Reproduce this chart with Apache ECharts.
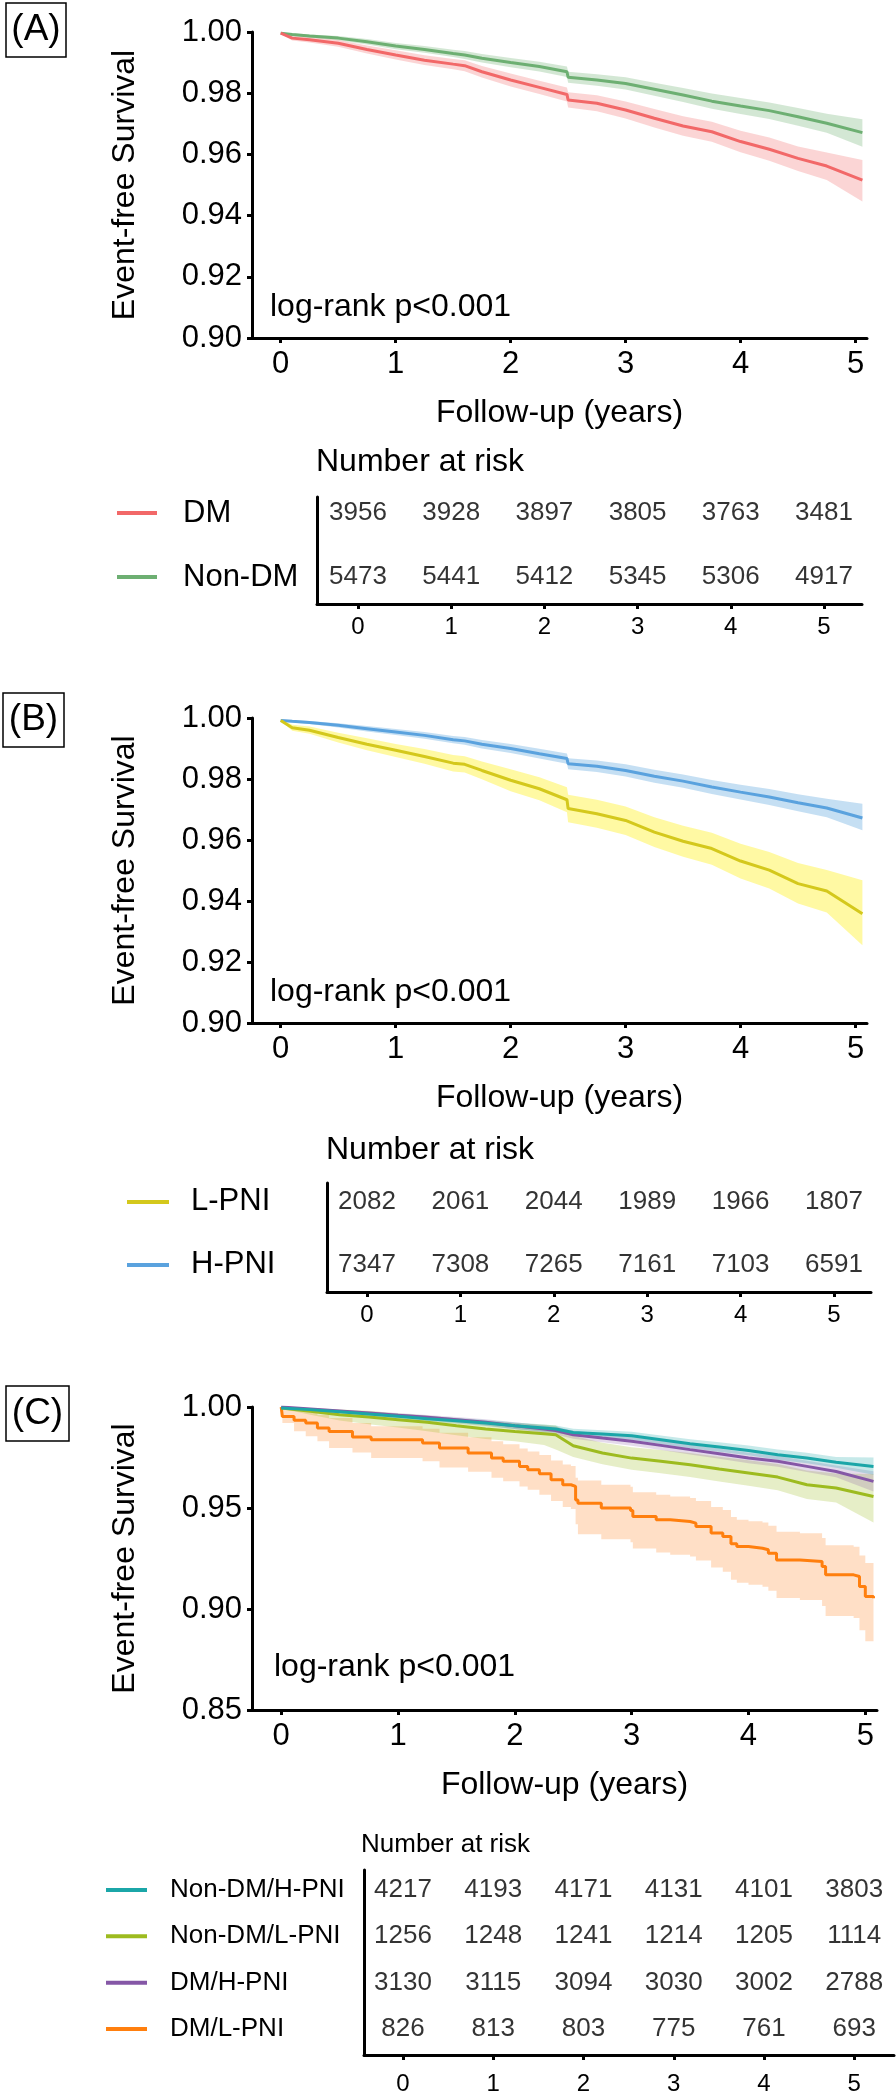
<!DOCTYPE html>
<html><head><meta charset="utf-8">
<script src="https://cdn.jsdelivr.net/npm/echarts@6/dist/echarts.min.js"></script>
<style>html,body{margin:0;padding:0;background:#fff}#c{width:896px;height:2098px}</style>
</head><body><div id="c"></div>
<script>
// ---------------- DATA ----------------
const xTicks = [0, 1, 2, 3, 4, 5];
const timesAB = [0, 0.1, 0.25, 0.5, 0.75, 1, 1.25, 1.5, 1.6, 1.75, 2, 2.25, 2.49, 2.5, 2.75, 3, 3.25, 3.5, 3.75, 4, 4.25, 4.5, 4.75, 5.06];

// Panel A
const dmSurv  = [0.9996, 0.998, 0.9975, 0.9963, 0.9943, 0.9925, 0.9908, 0.9895, 0.989, 0.987, 0.9843, 0.9819, 0.9796, 0.9778, 0.9767, 0.9745, 0.9718, 0.9693, 0.9674, 0.9642, 0.9617, 0.9587, 0.9562, 0.9516];
const dmUpper = [0.9998, 0.9988, 0.9984, 0.9974, 0.9956, 0.994, 0.9924, 0.9912, 0.9908, 0.9889, 0.9864, 0.9841, 0.9819, 0.9803, 0.9793, 0.9773, 0.9748, 0.9725, 0.9707, 0.9677, 0.9655, 0.9626, 0.9606, 0.9582];
const dmLower = [0.9994, 0.9972, 0.9966, 0.9952, 0.993, 0.991, 0.9892, 0.9878, 0.9872, 0.9851, 0.9822, 0.9797, 0.9773, 0.9753, 0.9741, 0.9717, 0.9688, 0.9661, 0.9641, 0.9607, 0.9579, 0.9546, 0.9516, 0.9446];
const nonDmSurv  = [0.9996, 0.9992, 0.9987, 0.998, 0.9968, 0.9954, 0.9943, 0.993, 0.9925, 0.9914, 0.990, 0.9887, 0.987, 0.9852, 0.9843, 0.9832, 0.9813, 0.9794, 0.9774, 0.9758, 0.9743, 0.9723, 0.9702, 0.9671];
const nonDmUpper = [0.9998, 0.9996, 0.9992, 0.9987, 0.9977, 0.9964, 0.9954, 0.9942, 0.9938, 0.9928, 0.9915, 0.9903, 0.9887, 0.987, 0.9862, 0.9852, 0.9834, 0.9817, 0.9799, 0.9784, 0.977, 0.9752, 0.9733, 0.9715];
const nonDmLower = [0.9994, 0.9988, 0.9982, 0.9973, 0.9959, 0.9944, 0.9932, 0.9918, 0.9912, 0.99, 0.9885, 0.9871, 0.9853, 0.9834, 0.9824, 0.9812, 0.9792, 0.9771, 0.9749, 0.9732, 0.9716, 0.9694, 0.9671, 0.9625];

// Panel B
const hPniSurv  = [0.9992, 0.9989, 0.9985, 0.9976, 0.9965, 0.9954, 0.9943, 0.9929, 0.9925, 0.9914, 0.990, 0.9883, 0.9867, 0.985, 0.9842, 0.9828, 0.9809, 0.9793, 0.9774, 0.9757, 0.9741, 0.9722, 0.9705, 0.9672];
const hPniUpper = [0.9995, 0.9993, 0.999, 0.9983, 0.9974, 0.9964, 0.9954, 0.9941, 0.9938, 0.9928, 0.9915, 0.9899, 0.9884, 0.9868, 0.9861, 0.9848, 0.983, 0.9815, 0.9797, 0.9781, 0.9767, 0.975, 0.9735, 0.9719];
const hPniLower = [0.9989, 0.9985, 0.998, 0.9969, 0.9956, 0.9944, 0.9932, 0.9917, 0.9912, 0.99, 0.9885, 0.9867, 0.985, 0.9832, 0.9823, 0.9808, 0.9788, 0.9771, 0.9751, 0.9733, 0.9715, 0.9694, 0.9675, 0.9632];
const lPniSurv  = [0.9992, 0.9968, 0.996, 0.9936, 0.9914, 0.9894, 0.9874, 0.9852, 0.9848, 0.9828, 0.9796, 0.9768, 0.9732, 0.9703, 0.9686, 0.9664, 0.9626, 0.9596, 0.9572, 0.9531, 0.9501, 0.9457, 0.9433, 0.9358];
const lPniUpper = [0.9994, 0.9978, 0.9972, 0.9952, 0.9934, 0.9915, 0.9898, 0.9879, 0.9875, 0.9857, 0.9832, 0.9806, 0.9773, 0.9748, 0.9732, 0.971, 0.9675, 0.9647, 0.9624, 0.9588, 0.9561, 0.9525, 0.9502, 0.9468];
const lPniLower = [0.999, 0.9958, 0.9948, 0.992, 0.9894, 0.9872, 0.985, 0.9825, 0.9821, 0.9799, 0.976, 0.973, 0.9691, 0.9658, 0.964, 0.9616, 0.9577, 0.9545, 0.9519, 0.9474, 0.9441, 0.9392, 0.9362, 0.9255];

// Panel C
const timesC = [0, 0.25, 0.5, 0.75, 1, 1.25, 1.5, 1.75, 2, 2.25, 2.35, 2.5, 2.75, 3, 3.25, 3.5, 3.75, 4, 4.25, 4.5, 4.75, 5.07];
const ndHSurv  = [0.9995, 0.9987, 0.9977, 0.9965, 0.9954, 0.9942, 0.9932, 0.9921, 0.9907, 0.9896, 0.9891, 0.9874, 0.9866, 0.9858, 0.9838, 0.9818, 0.9802, 0.9785, 0.9764, 0.9747, 0.9726, 0.9706];
const ndHUpper = [0.9999, 0.9993, 0.9985, 0.9975, 0.9966, 0.9955, 0.9946, 0.9936, 0.9923, 0.9913, 0.9908, 0.9892, 0.9885, 0.9878, 0.9859, 0.984, 0.9825, 0.9809, 0.9789, 0.9773, 0.9753, 0.975];
const ndHLower = [0.9991, 0.9981, 0.9969, 0.9955, 0.9942, 0.9929, 0.9918, 0.9906, 0.9891, 0.9879, 0.9874, 0.9856, 0.9847, 0.9838, 0.9817, 0.9796, 0.9779, 0.9761, 0.9739, 0.9721, 0.9699, 0.9665];
const ndLSurv  = [0.9995, 0.9979, 0.9962, 0.995, 0.9937, 0.9924, 0.9907, 0.9891, 0.9879, 0.9868, 0.9863, 0.9808, 0.9772, 0.9747, 0.9731, 0.9714, 0.9693, 0.9673, 0.9653, 0.9615, 0.9599, 0.9557];
const ndLUpper = [0.9999, 0.9995, 0.9988, 0.9981, 0.9968, 0.9958, 0.9944, 0.9931, 0.9921, 0.9912, 0.9908, 0.9858, 0.9823, 0.9801, 0.9787, 0.9772, 0.9754, 0.9736, 0.9718, 0.9686, 0.9671, 0.9668];
const ndLLower = [0.9991, 0.9962, 0.9933, 0.9915, 0.9898, 0.988, 0.986, 0.9842, 0.983, 0.9812, 0.979, 0.9752, 0.9716, 0.9689, 0.9672, 0.9654, 0.9631, 0.961, 0.9588, 0.9545, 0.9527, 0.9428];
const dHSurv  = [1.0, 0.999, 0.998, 0.997, 0.9959, 0.9949, 0.9937, 0.9924, 0.9907, 0.9891, 0.9883, 0.9863, 0.9846, 0.983, 0.981, 0.9789, 0.9769, 0.9747, 0.9731, 0.9706, 0.9681, 0.9632];
const dHUpper = [1.0, 0.9995, 0.9987, 0.9979, 0.997, 0.9961, 0.9951, 0.9939, 0.9924, 0.9909, 0.9902, 0.9883, 0.9867, 0.9852, 0.9833, 0.9813, 0.9794, 0.9773, 0.9758, 0.9734, 0.971, 0.9682];
const dHLower = [1.0, 0.9985, 0.9973, 0.9961, 0.9948, 0.9937, 0.9923, 0.9909, 0.989, 0.9873, 0.9864, 0.9843, 0.9825, 0.9808, 0.9787, 0.9765, 0.9744, 0.9721, 0.9704, 0.9678, 0.9652, 0.9582];
const timesDL = [0, 0.01, 0.11, 0.21, 0.31, 0.41, 0.61, 0.77, 1.21, 1.355, 1.6, 1.8, 1.9, 2.04, 2.11, 2.21, 2.31, 2.41, 2.48, 2.52, 2.54, 2.74, 2.99, 3.01, 3.21, 3.33, 3.5, 3.55, 3.68, 3.78, 3.85, 3.9, 4.0, 4.12, 4.17, 4.24, 4.44, 4.63, 4.66, 4.9, 4.95, 5.0, 5.07];
const dLSurv  = [1.0, 0.9953, 0.9934, 0.9921, 0.9896, 0.9879, 0.9851, 0.9838, 0.9822, 0.9797, 0.9772, 0.9747, 0.9731, 0.9706, 0.9689, 0.967, 0.964, 0.9615, 0.9607, 0.954, 0.9524, 0.95, 0.9488, 0.9458, 0.9442, 0.9433, 0.9425, 0.9409, 0.9376, 0.9359, 0.9323, 0.9309, 0.9301, 0.9293, 0.9276, 0.9243, 0.9235, 0.921, 0.9169, 0.9161, 0.9111, 0.9062, 0.9053];
const dLUpper = [1.0, 0.9995, 0.9985, 0.9975, 0.996, 0.9945, 0.9921, 0.9905, 0.9892, 0.9872, 0.985, 0.983, 0.9815, 0.9795, 0.978, 0.9762, 0.9735, 0.9715, 0.9708, 0.965, 0.9636, 0.9615, 0.9605, 0.9578, 0.9565, 0.9557, 0.955, 0.9535, 0.9505, 0.949, 0.9455, 0.9442, 0.9435, 0.9428, 0.9412, 0.9382, 0.9375, 0.9352, 0.9315, 0.9308, 0.9265, 0.9228, 0.922];
const dLLower = [1.0, 0.9921, 0.988, 0.9855, 0.983, 0.9797, 0.9775, 0.9748, 0.9731, 0.97, 0.968, 0.965, 0.9632, 0.9607, 0.959, 0.9565, 0.9535, 0.9505, 0.9495, 0.942, 0.937, 0.9345, 0.933, 0.93, 0.928, 0.9268, 0.926, 0.924, 0.9205, 0.9185, 0.9145, 0.913, 0.912, 0.911, 0.909, 0.9055, 0.9045, 0.9015, 0.8965, 0.8955, 0.8895, 0.884, 0.883];

// Numbers at risk
const riskNamesA = ['DM', 'Non-DM'];
const riskA = [[3956, 3928, 3897, 3805, 3763, 3481], [5473, 5441, 5412, 5345, 5306, 4917]];
const riskNamesB = ['L-PNI', 'H-PNI'];
const riskB = [[2082, 2061, 2044, 1989, 1966, 1807], [7347, 7308, 7265, 7161, 7103, 6591]];
const riskNamesC = ['Non-DM/H-PNI', 'Non-DM/L-PNI', 'DM/H-PNI', 'DM/L-PNI'];
const riskC = [[4217, 4193, 4171, 4131, 4101, 3803], [1256, 1248, 1241, 1214, 1205, 1114], [3130, 3115, 3094, 3030, 3002, 2788], [826, 813, 803, 775, 761, 693]];

// ---------------- STYLE ----------------
const FONT = '"Liberation Sans", Arial, Helvetica, sans-serif';
const C_DM = '#F26868', C_NDM = '#6DAF72', C_L = '#D4C81C', C_H = '#5AA2DE';
const C_NDH = '#1BA6A8', C_NDL = '#9DBB1F', C_DH = '#8557A6', C_DL = '#FF7F0E';
const BLACK = '#000';

const grids = [
  {left: 252, top: 32, width: 615, height: 306},    // 0 A
  {left: 317, top: 497, width: 545, height: 107},   // 1 A table
  {left: 252, top: 718, width: 615, height: 305},   // 2 B
  {left: 327, top: 1183, width: 544, height: 109},  // 3 B table
  {left: 252, top: 1407, width: 625, height: 303},  // 4 C
  {left: 364, top: 1870, width: 530, height: 185}   // 5 C table
];

const axisLineStyle = {color: BLACK, width: 3};
function mainX(g) {
  return {
    gridIndex: g, type: 'value', min: -0.25, max: 5.1,
    axisLine: {show: true, onZero: false, lineStyle: axisLineStyle},
    axisTick: {show: true, customValues: xTicks, length: 5, lineStyle: axisLineStyle},
    axisLabel: {customValues: xTicks, fontSize: 31, color: BLACK, margin: 11, fontFamily: FONT},
    splitLine: {show: false},
    name: 'Follow-up (years)', nameLocation: 'middle', nameGap: 75,
    nameTextStyle: {fontSize: 32, color: BLACK, fontFamily: FONT, verticalAlign: 'middle'}
  };
}
function mainY(g, min, interval) {
  return {
    gridIndex: g, type: 'value', min: min, max: 1.0, interval: interval,
    axisLine: {show: true, onZero: false, lineStyle: axisLineStyle},
    axisTick: {show: true, length: 5, lineStyle: axisLineStyle},
    axisLabel: {formatter: v => v.toFixed(2), fontSize: 31, color: BLACK, margin: 10, fontFamily: FONT},
    splitLine: {show: false},
    name: 'Event-free Survival', nameLocation: 'middle', nameRotate: 90, nameGap: 127,
    nameTextStyle: {fontSize: 32, color: BLACK, fontFamily: FONT, verticalAlign: 'middle', align: 'center'}
  };
}
function tableX(g, min, max, margin) {
  return {
    gridIndex: g, type: 'value', min: min, max: max,
    axisLine: {show: true, onZero: false, lineStyle: axisLineStyle},
    axisTick: {show: true, customValues: xTicks, length: 5, lineStyle: axisLineStyle},
    axisLabel: {customValues: xTicks, fontSize: 24, color: BLACK, margin: margin, fontFamily: FONT},
    splitLine: {show: false}
  };
}
function tableY(g, min, max, names, colors, margin, fs, lineW, gap) {
  const rich = {s: {width: gap, height: 4}, t: {fontSize: fs, color: BLACK, fontFamily: FONT, verticalAlign: 'middle'}};
  colors.forEach((c, i) => { rich['m' + i] = {width: lineW, height: 4, backgroundColor: c, verticalAlign: 'middle'}; });
  return {
    gridIndex: g, type: 'value', inverse: true, min: min, max: max,
    axisLine: {show: true, onZero: false, lineStyle: axisLineStyle},
    axisTick: {show: false},
    splitLine: {show: false},
    axisLabel: {
      customValues: names.map((n, i) => i), align: 'left', margin: margin,
      formatter: v => '{m' + v + '|}{s|}{t|' + names[v] + '}', rich: rich
    }
  };
}

const series = [];
// confidence band: polygon built from the data through the axis scales (api.coord)
function band(ax, times, lower, upper, color, opacity, step) {
  const data = times.map((t, i) => [t, lower[i], upper[i]]);
  series.push({
    type: 'custom', xAxisIndex: ax, yAxisIndex: ax, silent: true, z: 1,
    encode: {x: 0, y: [1, 2]}, data: data,
    renderItem: function (params, api) {
      if (params.dataIndex !== 0) return null;
      const up = [], lo = [];
      data.forEach((d, i) => {
        if (step && i > 0) {
          up.push(api.coord([d[0], data[i - 1][2]]));
          lo.push(api.coord([d[0], data[i - 1][1]]));
        }
        up.push(api.coord([d[0], d[2]]));
        lo.push(api.coord([d[0], d[1]]));
      });
      return {type: 'polygon', shape: {points: up.concat(lo.reverse())}, style: {fill: color, opacity: opacity}};
    }
  });
}
function curve(ax, name, times, surv, color, step) {
  series.push({type: 'line', name: name, xAxisIndex: ax, yAxisIndex: ax, step: step, symbol: 'none',
    lineStyle: {color: color, width: 3}, data: times.map((t, i) => [t, surv[i]]), z: 3});
}
function risk(ax, rows) {
  const data = [];
  rows.forEach((vals, r) => vals.forEach((v, k) => data.push([xTicks[k], r, v])));
  series.push({type: 'scatter', xAxisIndex: ax, yAxisIndex: ax, symbolSize: 0.1, itemStyle: {color: 'transparent'},
    label: {show: true, position: 'inside', formatter: p => String(p.value[2]), fontSize: 26, color: BLACK, fontFamily: FONT},
    data: data, silent: true});
}

// Panel A
band(0, timesAB, nonDmLower, nonDmUpper, C_NDM, 0.3, false);
band(0, timesAB, dmLower, dmUpper, C_DM, 0.28, false);
curve(0, 'Non-DM', timesAB, nonDmSurv, C_NDM, false);
curve(0, 'DM', timesAB, dmSurv, C_DM, false);
risk(1, riskA);
// Panel B
band(2, timesAB, hPniLower, hPniUpper, C_H, 0.35, false);
band(2, timesAB, lPniLower, lPniUpper, '#FFF88C', 0.8, false);
curve(2, 'H-PNI', timesAB, hPniSurv, C_H, false);
curve(2, 'L-PNI', timesAB, lPniSurv, C_L, false);
risk(3, riskB);
// Panel C
band(4, timesDL, dLLower, dLUpper, '#FFB070', 0.4, true);
band(4, timesC, ndLLower, ndLUpper, C_NDL, 0.25, false);
band(4, timesC, dHLower, dHUpper, C_DH, 0.22, false);
band(4, timesC, ndHLower, ndHUpper, C_NDH, 0.25, false);
curve(4, 'DM/L-PNI', timesDL, dLSurv, C_DL, 'end');
curve(4, 'Non-DM/L-PNI', timesC, ndLSurv, C_NDL, false);
curve(4, 'DM/H-PNI', timesC, dHSurv, C_DH, false);
curve(4, 'Non-DM/H-PNI', timesC, ndHSurv, C_NDH, false);
risk(5, riskC);

function panelLabel(txt, x, y, w, h) {
  return [
    {type: 'rect', shape: {x: x, y: y, width: w, height: h}, style: {fill: 'none', stroke: BLACK, lineWidth: 1.5}},
    {type: 'text', x: x + w / 2, y: y + h / 2, style: {text: txt, fontSize: 37, fontFamily: FONT, fill: BLACK, align: 'center', verticalAlign: 'middle'}}
  ];
}
function txt(s, x, y, fs) {
  return {type: 'text', x: x, y: y, style: {text: s, fontSize: fs, fontFamily: FONT, fill: BLACK, align: 'left', verticalAlign: 'middle'}};
}

const option = {
  animation: false,
  backgroundColor: '#fff',
  grid: grids,
  xAxis: [mainX(0), tableX(1, -0.44, 5.408, 11), mainX(2), tableX(3, -0.428, 5.396, 11),
          mainX(4), tableX(5, -0.432, 5.44, 17)],
  yAxis: [mainY(0, 0.9, 0.02), tableY(1, -0.25, 1.42, riskNamesA, [C_DM, C_NDM], 200, 31, 40, 26),
          mainY(2, 0.9, 0.02), tableY(3, -0.30, 1.43, riskNamesB, [C_L, C_H], 200, 31, 42, 22),
          mainY(4, 0.85, 0.05), tableY(5, -0.43, 3.56, riskNamesC, [C_NDH, C_NDL, C_DH, C_DL], 258, 26, 41, 23)],
  series: series,
  graphic: [].concat(
    panelLabel('(A)', 6, 3, 60, 54),
    panelLabel('(B)', 3, 693, 61, 54),
    panelLabel('(C)', 6, 1386, 63, 55),
    [txt('log-rank p<0.001', 270, 307, 32), txt('log-rank p<0.001', 270, 992, 32), txt('log-rank p<0.001', 274, 1667, 32),
     txt('Number at risk', 316, 462, 32), txt('Number at risk', 326, 1150, 32), txt('Number at risk', 361, 1845, 26)]
  )
};
const chart = echarts.init(document.getElementById('c'), null, {renderer: 'canvas'});
chart.setOption(option);
</script></body></html>
